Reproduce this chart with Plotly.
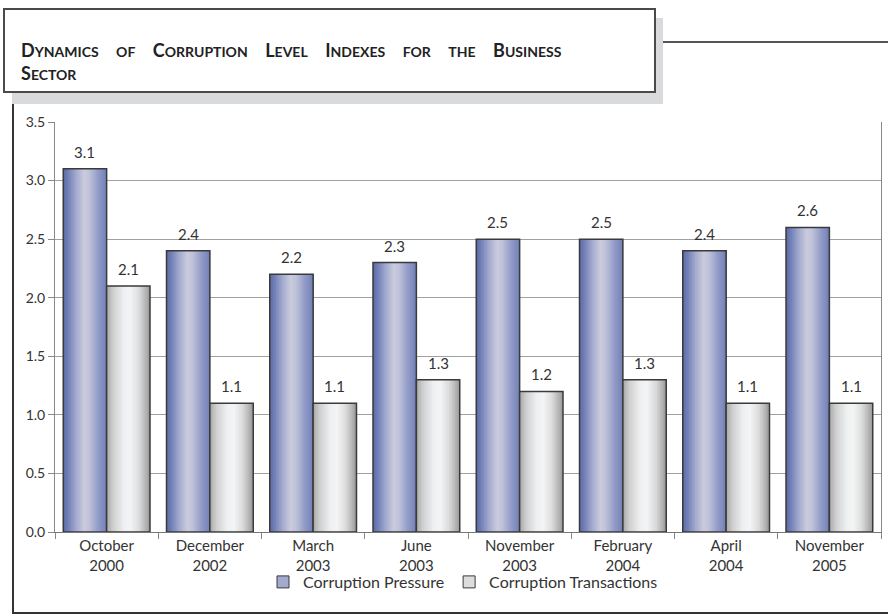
import plotly.graph_objects as go

# Survey waves (tick labels) and index values
months = ["October", "December", "March", "June", "November", "February", "April", "November"]
years = ["2000", "2002", "2003", "2003", "2003", "2004", "2004", "2005"]
pressure = [3.1, 2.4, 2.2, 2.3, 2.5, 2.5, 2.4, 2.6]
transactions = [2.1, 1.1, 1.1, 1.3, 1.2, 1.3, 1.1, 1.1]
series_names = ["Corruption Pressure", "Corruption Transactions"]

categories = [f"{m}<br>{y}" for m, y in zip(months, years)]

W, H = 888, 615
ML, MR, MT, MB = 55, 7, 122, 83
PW, PH = W - ML - MR, H - MT - MB

FONT = "Lato, 'Noto Sans', sans-serif"
TEXT = "#333333"
OUTLINE = "#3a3a3a"

blue_scale = [(0, "#5c6ba7"), (0.12, "#7482b8"), (0.3, "#a4abcf"), (0.48, "#cacbdc"),
              (0.6, "#bfc2d9"), (0.8, "#939dc8"), (1, "#7280b8")]
gray_scale = [(0, "#a8a8a8"), (0.15, "#cfcfcf"), (0.4, "#eef0f2"), (0.55, "#f3f4f5"),
              (0.75, "#dcdcdc"), (0.92, "#b0b0b0"), (1, "#9c9c9c")]

BAR_W = 0.42
offsets = [-BAR_W, 0.0]
N_STRIPS = 28


def hex_rgb(h):
    h = h.lstrip("#")
    return tuple(int(h[i:i + 2], 16) for i in (0, 2, 4))


def shade(scale, t):
    for (t0, c0), (t1, c1) in zip(scale[:-1], scale[1:]):
        if t0 <= t <= t1:
            f = (t - t0) / (t1 - t0)
            a, b = hex_rgb(c0), hex_rgb(c1)
            r, g, bl = (round(a[k] + (b[k] - a[k]) * f) for k in range(3))
            return f"rgb({r},{g},{bl})"
    return scale[-1][1]


def px_x(x):
    return (x - ML) / PW


def px_y(y):
    return (H - MB - y) / PH


fig = go.Figure()

for values, off, scale, name, swatch in zip(
    [pressure, transactions], offsets, [blue_scale, gray_scale], series_names,
    ["#a3a9cf", "#dcdcdc"],
):
    # shaded fill: overlapping strips, each running from its start to the bar's right edge
    step = BAR_W / N_STRIPS
    for i in range(N_STRIPS):
        fig.add_trace(go.Bar(
            x=categories, y=values, offset=off + i * step, width=BAR_W - i * step,
            marker=dict(color=shade(scale, (i + 0.5) / N_STRIPS), line=dict(width=0)),
            showlegend=False, hoverinfo="skip",
        ))
    # bar outline
    fig.add_trace(go.Bar(
        x=categories, y=values, offset=off, width=BAR_W,
        marker=dict(color="rgba(0,0,0,0)", line=dict(color=OUTLINE, width=1.5)),
        showlegend=False, name=name,
    ))
    # legend swatch
    fig.add_trace(go.Bar(
        x=[categories[0]], y=[None], name=name,
        marker=dict(color=swatch, line=dict(color=OUTLINE, width=1)),
    ))

# value labels above bars
annotations = []
for values, off in zip([pressure, transactions], offsets):
    for cat, v in zip(categories, values):
        annotations.append(dict(
            x=cat, y=v, xref="x", yref="y", text=f"{v:.1f}", showarrow=False,
            xshift=(off + BAR_W / 2) * PW / len(categories), yshift=17,
            font=dict(family=FONT, size=15, color=TEXT),
        ))


# heading in small capitals, with wide word spacing
def small_caps(words):
    parts = []
    for w in words:
        parts.append(f"{w[0]}<span style='font-size:14px'>{w[1:].upper()}</span>" if w[0].isupper()
                     else f"<span style='font-size:14px'>{w.upper()}</span>")
    return (" " + "&nbsp;" * 3).join(parts)


line1 = small_caps(["Dynamics", "of", "Corruption", "Level", "Indexes", "for", "the", "Business"])
line2 = small_caps(["Sector"])
annotations.append(dict(
    x=px_x(19), y=px_y(37), xref="paper", yref="paper", xanchor="left", yanchor="top",
    text=f"<b>{line1}<br>{line2}</b>", showarrow=False, align="left",
    font=dict(family=FONT, size=18, color="#222222"),
))

BOX_R = 655
shapes = [
    # heading box shadow and box
    dict(type="rect", xref="paper", yref="paper", x0=px_x(12), x1=px_x(BOX_R + 8),
         y0=px_y(104), y1=px_y(18), fillcolor="#d9dadc", line=dict(width=0), layer="below"),
    dict(type="rect", xref="paper", yref="paper", x0=px_x(4), x1=px_x(BOX_R),
         y0=px_y(92), y1=px_y(9), fillcolor="white", line=dict(color="#4a4a4a", width=2),
         layer="below"),
    # rule to the right of the heading
    dict(type="line", xref="paper", yref="paper", x0=px_x(BOX_R + 8), x1=px_x(888),
         y0=px_y(42), y1=px_y(42), line=dict(color="#555555", width=2)),
    # frame left and bottom
    dict(type="line", xref="paper", yref="paper", x0=px_x(13), x1=px_x(13),
         y0=px_y(104), y1=px_y(613), line=dict(color="#333333", width=2)),
    dict(type="line", xref="paper", yref="paper", x0=px_x(12), x1=px_x(888),
         y0=px_y(613), y1=px_y(613), line=dict(color="#333333", width=2)),
]

fig.update_layout(
    width=W, height=H,
    margin=dict(l=ML, r=MR, t=MT, b=MB, pad=0),
    paper_bgcolor="white", plot_bgcolor="white",
    barmode="overlay",
    font=dict(family=FONT, size=14, color=TEXT),
    showlegend=True,
    legend=dict(orientation="h", x=px_x(263), xanchor="left", y=px_y(582), yanchor="middle",
                font=dict(family=FONT, size=16, color=TEXT), itemwidth=30,
                bgcolor="rgba(0,0,0,0)", tracegroupgap=0),
    annotations=annotations,
    shapes=shapes,
    xaxis=dict(
        type="category", tickson="boundaries", ticks="outside", ticklen=6,
        tickcolor="#888888", showline=True, linecolor="#777777", linewidth=1,
        tickfont=dict(family=FONT, size=15, color=TEXT), showgrid=False,
        fixedrange=True,
    ),
    yaxis=dict(
        range=[0, 3.5], dtick=0.5, tickformat=".1f", ticks="outside", ticklen=6,
        tickcolor="#888888", showline=True, linecolor="#888888", linewidth=1, mirror=True,
        showgrid=True, gridcolor="#a0a0a0", gridwidth=1, zeroline=False,
        tickfont=dict(family=FONT, size=14, color=TEXT), fixedrange=True,
    ),
)

fig.write_html("out.html")
